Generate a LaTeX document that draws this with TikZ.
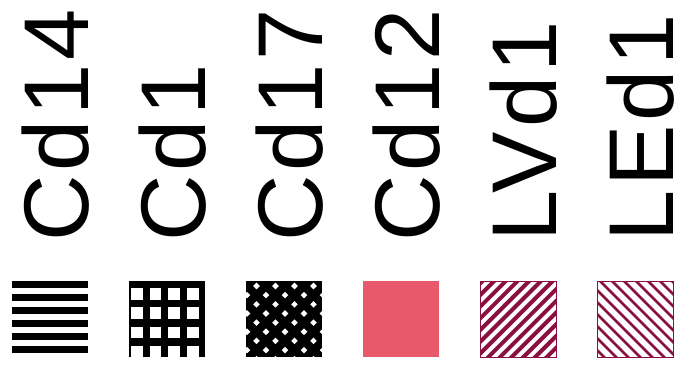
\documentclass[tikz,border=0pt]{standalone}
\usepackage{fontspec}
\newfontfamily\labelfont[LetterSpace=4.5]{Liberation Sans}
\usepackage{xcolor}
\usepackage{tikz}
\usetikzlibrary{positioning}
\definecolor{swatchred}{RGB}{232,89,107}
\definecolor{swatchwine}{RGB}{138,16,64}
\tikzset{
  samplename/.style={rotate=90, anchor=base west, inner sep=0pt, font=\labelfont\fontsize{92}{92}\selectfont},
  swatchedge/.style={draw=swatchwine, line width=1pt},
}
\begin{document}
\begin{tikzpicture}[x=1pt, y=-1pt]
  \useasboundingbox (0,0) rectangle (681,376);
  \def\pitch{117}
  \def\sqw{76}

  % Sample names
  \foreach \lab [count=\i from 0] in {Cd14,Cd1,Cd17,Cd12,LVd1,LEd1}
    \node[samplename] (name\i) at ({88+\pitch*\i}, 242) {\lab};

  % Cd14: horizontal stripes
  \begin{scope}
    \clip (12,281) rectangle ++(\sqw,\sqw);
    \fill[black] (12,281) rectangle ++(\sqw,\sqw);
    \foreach \k in {0,...,5}
      \fill[white] (12,{288+12.9*\k}) rectangle ++(\sqw,6);
  \end{scope}

  % Cd1: grid
  \begin{scope}
    \clip (129,281) rectangle ++(\sqw,\sqw);
    \fill[black] (129,281) rectangle ++(\sqw,\sqw);
    \foreach \r in {0,...,3}
      \foreach \c in {0,...,3}
        \fill[white] ({131+18.7*\c},{288+19.3*\r}) rectangle ++(11.5,11.5);
  \end{scope}

  % Cd17: crosshatch
  \begin{scope}
    \clip (246,281) rectangle ++(\sqw,\sqw);
    \fill[black] (246,281) rectangle ++(\sqw,\sqw);
    \foreach \r in {0,...,8}
      \foreach \c in {0,...,4} {
        \pgfmathsetmacro{\dx}{247+9.5*mod(\r+1,2)+19*\c}
        \pgfmathsetmacro{\dy}{286+9.15*\r}
        \fill[white] (\dx,\dy) +(0,-3.3) -- +(3.3,0) -- +(0,3.3) -- +(-3.3,0) -- cycle;
      }
  \end{scope}

  % Cd12: solid
  \fill[swatchred] (363,281) rectangle ++(\sqw,\sqw);

  % LVd1: north east lines
  \begin{scope}
    \clip (480,281) rectangle ++(\sqw,\sqw);
    \foreach \k in {0,...,13}
      \draw[swatchwine, line width=4pt] ({763.5+11.7*\k-270},270) -- ++(-100,100);
  \end{scope}
  \draw[swatchedge] (480,281) rectangle ++(\sqw,\sqw);

  % LEd1: north west lines
  \begin{scope}
    \clip (597,281) rectangle ++(\sqw,\sqw);
    \foreach \k in {-7,...,6}
      \draw[swatchwine, line width=2.8pt] ({319+12*\k+270},270) -- ++(100,100);
  \end{scope}
  \draw[swatchedge] (597,281) rectangle ++(\sqw,\sqw);
\end{tikzpicture}
\end{document}
